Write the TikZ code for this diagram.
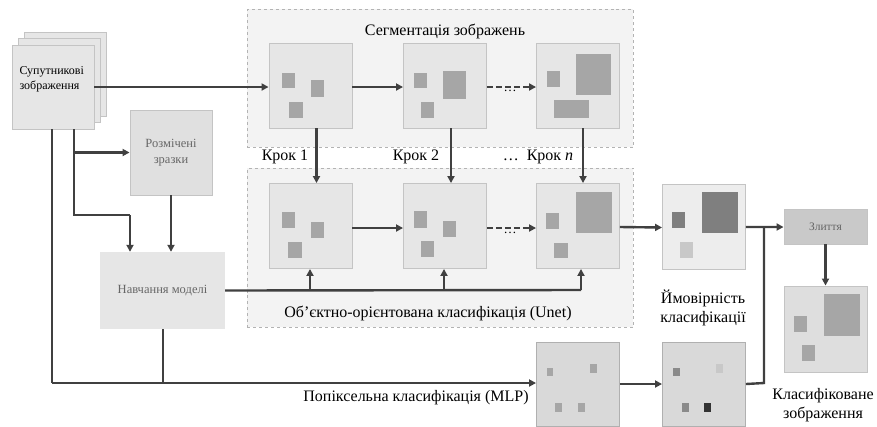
\documentclass[tikz,border=0pt]{standalone}
\usepackage{fontspec}
\setmainfont{Liberation Serif}
\usetikzlibrary{arrows.meta}
\definecolor{ln}{HTML}{404040}
\definecolor{grpfill}{HTML}{F3F3F3}
\definecolor{grpline}{HTML}{B3B3B3}
\definecolor{boxfill}{HTML}{E6E6E6}
\definecolor{boxline}{HTML}{C4C4C4}
\definecolor{labfill}{HTML}{E0E0E0}
\definecolor{probfill}{HTML}{EDEDED}
\definecolor{mlpfill}{HTML}{D9D9D9}
\definecolor{mlpline}{HTML}{B0B0B0}
\definecolor{fusefill}{HTML}{C9C9C9}
\definecolor{clsfill}{HTML}{DEDEDE}
\definecolor{sq}{HTML}{A6A6A6}
\definecolor{sqdark}{HTML}{7F7F7F}
\definecolor{sqlight}{HTML}{C8C8C8}
\definecolor{pxmid}{HTML}{8A8A8A}
\definecolor{pxblack}{HTML}{333333}
\definecolor{txtgray}{HTML}{666666}
\tikzset{
  grp/.style={draw=grpline, dashed, fill=grpfill, line width=0.9bp, inner sep=0, anchor=north west},
  imgbox/.style={draw=boxline, fill=boxfill, line width=0.9bp, inner sep=0, minimum width=83bp, minimum height=85bp},
  sheet/.style={draw=boxline, fill=boxfill, line width=0.9bp, inner sep=0, minimum width=82bp, minimum height=84bp},
  conn/.style={draw=ln, line width=2.4bp},
  arr/.style={conn, -{Triangle[length=7bp,width=7bp]}},
  darr/.style={arr, dash pattern=on 6bp off 3bp},
  bigtxt/.style={font=\fontsize{16bp}{19bp}\selectfont, text=black, align=center},
  smalltxt/.style={font=\fontsize{12.5bp}{16bp}\selectfont, text=txtgray, align=center},
  dotstxt/.style={font=\fontsize{13bp}{15bp}\selectfont, text=black},
}
\newcommand{\sqr}[5][sq]{\fill[#1] (#2,#3) rectangle (#4,#5);}
\begin{document}
\begin{tikzpicture}[x=1bp,y=-1bp]
\useasboundingbox (0,0) rectangle (877,426);
% groups
\node[grp, minimum width=386bp, minimum height=138bp] (gtop) at (247,9) {};
\node[grp, minimum width=386bp, minimum height=159bp] (gbot) at (247,168) {};
\node[bigtxt] (ttop) at (445,31) {Сегментація зображень};
\node[bigtxt] (tbot) at (428,313) {Об’єктно-орієнтована класифікація (Unet)};
% satellite stack
\node[sheet] (s3) at (65,74.5) {};
\node[sheet] (s2) at (59,80.5) {};
\node[sheet] (s1) at (53,87) {};
\node[font=\fontsize{12bp}{15bp}\selectfont, align=left, anchor=west] (stxt) at (16,79) {Супутникові\\зображення};
% labeled samples & training
\node[draw=boxline, fill=labfill, line width=0.9bp, minimum width=82bp, minimum height=85bp, inner sep=0, smalltxt] (lab) at (171,152.5) {Розмічені\\зразки};
\node[fill=boxfill, minimum width=125bp, minimum height=77bp, inner sep=0, smalltxt] (train) at (162.5,290.5) {Навчання моделі};
% top boxes
\node[imgbox] (t1) at (310.5,85.5) {};
\node[imgbox] (t2) at (445,85.5) {};
\node[imgbox] (t3) at (578,85.5) {};
\sqr{282}{73}{295}{88}\sqr{311}{80}{324}{97}\sqr{289}{102}{303}{118}
\sqr{414}{73}{427}{88}\sqr{443}{71}{466}{99}\sqr{421}{102}{434}{118}
\sqr{547}{71}{560}{87}\sqr{576}{54}{611}{95}\sqr{554}{100}{589}{118}
% bottom boxes
\node[imgbox] (b1) at (310.5,226) {};
\node[imgbox] (b2) at (445,226) {};
\node[imgbox] (b3) at (578,226) {};
\sqr{282}{212}{295}{228}\sqr{311}{222}{324}{238}\sqr{288}{242}{302}{258}
\sqr{414}{211}{427}{228}\sqr{443}{221}{456}{237}\sqr{421}{241}{434}{257}
\sqr{546}{213}{559}{229}\sqr{576}{192}{612}{233}\sqr{554}{243}{568}{258}
% probability box
\node[imgbox, fill=probfill] (prob) at (704,226.5) {};
\sqr[sqdark]{702}{192}{738}{233}\sqr[sqdark]{672}{212}{685}{228}\sqr[sqlight]{680}{242}{693}{258}
\node[bigtxt] (ptxt) at (703,308) {Ймовірність\\класифікації};
% fusion
\node[draw=boxline, fill=fusefill, line width=0.9bp, minimum width=83bp, minimum height=35bp, inner sep=0, font=\fontsize{11.5bp}{13bp}\selectfont, text=txtgray] (fuse) at (825.5,226.5) {Злиття};
\node[imgbox, fill=clsfill, minimum height=86bp] (cls) at (825.5,329) {};
\sqr{824}{294}{860}{336}\sqr{794}{316}{807}{332}\sqr{802}{345}{815}{361}
\node[bigtxt] (ctxt) at (823,405) {Класифіковане\\зображення};
% MLP boxes
\node[imgbox, draw=mlpline, fill=mlpfill, minimum height=84bp] (ma) at (578,384) {};
\node[imgbox, draw=mlpline, fill=mlpfill, minimum height=84bp] (mb) at (704,384) {};
\sqr{547}{368}{553}{376}\sqr{590}{364}{597}{373}\sqr{555}{403}{562}{412}\sqr{578}{403}{585}{412}
\sqr[pxmid]{673}{368}{680}{376}\sqr[sqlight]{716}{364}{723}{373}\sqr[pxmid]{682}{403}{689}{412}\sqr[pxblack]{704}{403}{711}{412}
\node[bigtxt] (mtxt) at (416,398) {Попіксельна класифікація (MLP)};
% step labels
\node[bigtxt] (k1) at (285,157) {Крок 1};
\node[bigtxt] (k2) at (416,157) {Крок 2};
\node[bigtxt] (kn) at (538,157) {…\ \ Крок \textit{n}};
\node[dotstxt] (d1) at (510,91) {…};
\node[dotstxt] (d2) at (510,233) {…};
% coordinates
\coordinate (j1) at (74,215);
\coordinate (j2) at (130,215);
\coordinate (j3) at (52,383);
\coordinate (j4) at (163,383);
\coordinate (j5) at (764,383);
\coordinate (j6) at (764,227);
\coordinate (j7) at (581,290);
% connectors
\draw[arr] (s1.east) -- (t1.west |- s1.east);
\draw[arr] (t1.east |- s1.east) -- (t2.west |- s1.east);
\draw[darr] (t2.east |- s1.east) -- (t3.west |- s1.east);
\draw[arr] ([xshift=6bp]t1.south) -- ([xshift=6bp]b1.north);
\draw[arr] ([xshift=6bp]t2.south) -- ([xshift=6bp]b2.north);
\draw[arr] ([xshift=5bp]t3.south) -- ([xshift=5bp]b3.north);
\draw[arr] ([yshift=-2bp]b1.east) -- ([yshift=-2bp]b2.west);
\draw[darr] ([yshift=-2bp]b2.east) -- ([yshift=-2bp]b3.west);
\draw[arr] ([yshift=-1bp]b3.east) -- ([yshift=-1bp]prob.west);
\draw[arr] ([yshift=-0.5bp]prob.east) -- (fuse.west |- j6);
\draw[arr] (fuse.south) -- (cls.north);
\draw[arr] (ma.east) -- (mb.west);
\draw[conn] (mb.east) -- (j5) -- (j6);
\draw[conn] (s1.south -| j1) -- (j1) -- (j2);
\draw[arr] (j2) -- (train.north -| j2);
\draw[arr] (s1.south -| j1) |- (lab.west);
\draw[arr] (lab.south) -- (train.north -| lab.south);
\draw[conn] (train.east) -- (j7);
\draw[arr] ([xshift=-0.5bp]b1.south |- j7) -- ([xshift=-0.5bp]b1.south);
\draw[arr] ([xshift=-1bp]b2.south |- j7) -- ([xshift=-1bp]b2.south);
\draw[arr] (j7) -- (b3.south -| j7);
\draw[conn] (s1.south -| j3) -- (j3);
\draw[arr] (j3) -- (ma.west |- j3);
\draw[conn] (train.south -| j4) -- (j4);
\end{tikzpicture}
\end{document}
